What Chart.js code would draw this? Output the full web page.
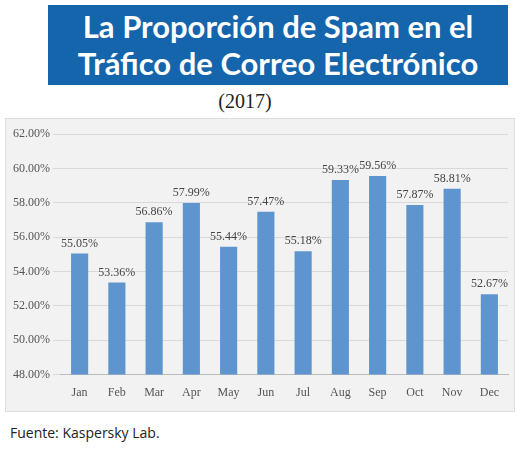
<!DOCTYPE html>
<html><head><meta charset="utf-8">
<script src="https://cdn.jsdelivr.net/npm/chart.js@4"></script>
<style>
body{margin:0;width:520px;height:449px;background:#fff;position:relative;font-family:"Liberation Serif",serif;overflow:hidden}
#title{position:absolute;left:48px;top:5px;width:460px;height:80px;background:#1565ad;color:#fff;font-family:"Lato","DejaVu Sans",sans-serif;font-weight:bold;font-size:31px;line-height:37px;text-align:center;padding-top:3px;box-sizing:border-box}
#year{position:absolute;left:0;width:490px;top:90px;text-align:center;font-size:20px;color:#222}
#box{position:absolute;left:5px;top:118px;width:510px;height:294px;background:#f2f2f2;border:1px solid #ddd;box-sizing:border-box}
#src{position:absolute;left:10px;top:423px;font-family:"Open Sans",sans-serif;font-size:14px;color:#222}
</style></head><body>
<div id="title">La Proporción de Spam en el<br>Tráfico de Correo Electrónico</div>
<div id="year">(2017)</div>
<div id="box"><canvas id="c" width="508" height="292"></canvas></div>
<div id="src">Fuente: Kaspersky Lab.</div>
<script>
const months=["Jan","Feb","Mar","Apr","May","Jun","Jul","Aug","Sep","Oct","Nov","Dec"];
const spamShare=[55.05,53.36,56.86,57.99,55.44,57.47,55.18,59.33,59.56,57.87,58.81,52.67];
const labelPlugin={id:"lbl",afterDatasetsDraw(ch){const c=ch.ctx;c.save();c.font="12px 'Liberation Serif', serif";c.fillStyle="#444";c.textAlign="center";c.textBaseline="bottom";
ch.getDatasetMeta(0).data.forEach((b,i)=>{c.fillText(spamShare[i].toFixed(2)+"%",b.x,b.y-4);});c.restore();}};
new Chart(document.getElementById("c"),{type:"bar",data:{labels:months,datasets:[{data:spamShare,backgroundColor:"#5f95cf",categoryPercentage:0.92,barPercentage:0.5}]},
options:{responsive:false,animation:false,devicePixelRatio:1,layout:{padding:{top:15,right:6,bottom:8,left:4}},
plugins:{legend:{display:false},tooltip:{enabled:false}},
scales:{y:{min:48,max:62,ticks:{stepSize:2,callback:v=>v.toFixed(2)+"%",color:"#555",font:{family:"Liberation Serif",size:12}},grid:{color:"#d9d9d9"},border:{display:false}},
x:{ticks:{color:"#555",font:{family:"Liberation Serif",size:12}},grid:{display:false},border:{color:"#bbb"}}}},plugins:[labelPlugin]});
</script>
</body></html>
